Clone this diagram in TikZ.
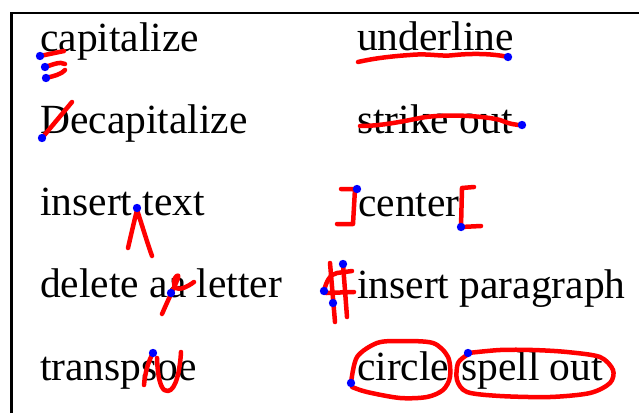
\documentclass[tikz,border=0pt]{standalone}
\usepackage{fontspec}
\setmainfont{Liberation Serif}
\begin{document}
\begin{tikzpicture}[x=1pt,y=-1pt,
  lbl/.style={anchor=base west,inner sep=0pt,font=\fontsize{41.5}{48}\selectfont},
  redink/.style={draw=red,line width=4.5pt,line cap=round,line join=round},
  bluedot/.style={fill=blue}]
\useasboundingbox[fill=white] (0,0) rectangle (639,413);
\draw[line width=2.5pt] (11.5,413) -- (11.5,13) -- (639,13);
% texts
\node[lbl] (cap) at (40,51) {capitalize};
\node[lbl] (decap) at (40,133) {Decapitalize};
\node[lbl] (ins) at (40,215) {insert text};
\node[lbl] (del) at (40,297) {delete aa letter};
\node[lbl] (tr) at (40,380) {transpsoe};
\node[lbl] (ul) at (357,50) {underline};
\node[lbl] (so) at (357,133) {strike out};
\node[lbl] (ce) at (358,216) {center};
\node[lbl] (ip) at (357,298) {insert paragraph};
\node[lbl] (ci) at (357,380) {circle};
\node[lbl] (sp) at (461,380) {spell out};
% capitalize
\draw[redink] (40,56) -- (64,51);
\draw[redink] (45,67) .. controls (52,65) and (60,61) .. (65,64);
\draw[redink] (46,78) .. controls (54,76) and (62,74) .. (65,70);
\fill[bluedot] (40,56) circle (4.2) (45,67) circle (4.2) (46,78) circle (4.2);
% decapitalize
\draw[redink] (42,138) -- (72,102);
\fill[bluedot] (42,138) circle (4.2);
% underline
\draw[redink] (358,62) .. controls (375,58) and (395,56) .. (410,55) .. controls (430,53) and (440,57) .. (455,55) .. controls (475,53) and (495,54) .. (508,57);
\fill[bluedot] (508,57) circle (4.2);
% strike out
\draw[redink] (360,126) .. controls (380,126) and (400,122) .. (420,118) .. controls (440,114) and (480,115) .. (500,120) .. controls (510,124) and (515,125) .. (522,125);
\fill[bluedot] (522,125) circle (4.2);
% insert text
\draw[redink] (128,248) .. controls (131,235) and (134,222) .. (137,210) .. controls (142,225) and (147,242) .. (152,256);
\fill[bluedot] (137,208) circle (4.2);
% delete
\draw[redink] (162,314) .. controls (168,300) and (174,288) .. (178,278) .. controls (180,273) and (174,276) .. (174,282) .. controls (174,290) and (180,292) .. (194,282);
\fill[bluedot] (171,293) circle (4.2);
% center
\draw[redink] (341,189) -- (355,189) -- (353,224) -- (337,224);
\draw[redink] (474,187) -- (462,188) -- (461,227) -- (481,226);
\fill[bluedot] (357,189) circle (4.2) (461,227) circle (4.2);
% paragraph
\draw[redink] (330,263) -- (335,322);
\draw[redink] (343,264) -- (347,317);
\draw[redink] (324,291) .. controls (326,282) and (330,274) .. (337,273) -- (352,271);
\draw[redink] (326,293) -- (354,292);
\fill[bluedot] (343,264) circle (4.2) (324,291) circle (4.2) (333,303) circle (4.2);
% transpose
\draw[redink] (153,353) .. controls (148,362) and (145,373) .. (144,385);
\draw[redink] (157,358) .. controls (158,385) and (163,392) .. (168,391) .. controls (176,390) and (180,370) .. (181,352);
\fill[bluedot] (153,353) circle (4.2);
% circle
\draw[redink] plot[smooth] coordinates {(351,383) (357,357) (377,343) (400,341) (433,343) (448,357) (450,377) (443,390) (427,397) (400,398) (367,392) (352,387)};
\fill[bluedot] (351,383) circle (4.2);
% spell out
\draw[redink] plot[smooth] coordinates {(468,353) (500,350) (533,350) (567,352) (600,357) (613,370) (610,383) (590,393) (550,397) (500,396) (467,392) (457,380) (458,363) (467,355)};
\fill[bluedot] (468,353) circle (4.2);
\end{tikzpicture}
\end{document}
